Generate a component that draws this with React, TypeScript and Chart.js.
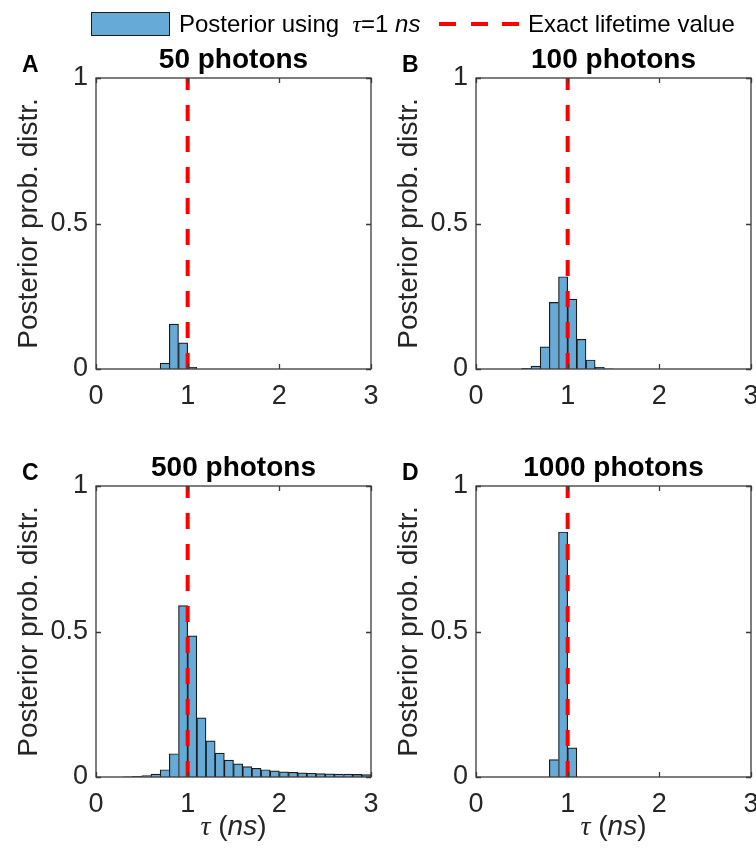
import React, { useEffect, useRef } from "react";
import { Chart, registerables } from "chart.js";

Chart.register(...registerables);

// Histogram bin centres for the lifetime tau (ns), bin width 0.1
const tauBinCenters = [
  0.05, 0.15, 0.25, 0.35, 0.45, 0.55, 0.65, 0.75, 0.85, 0.95,
  1.05, 1.15, 1.25, 1.35, 1.45, 1.55, 1.65, 1.75, 1.85, 1.95,
  2.05, 2.15, 2.25, 2.35, 2.45, 2.55, 2.65, 2.75, 2.85, 2.95,
];

// Posterior probability per bin for each photon count
const probPhotons50 = [
  0, 0, 0, 0, 0, 0, 0, 0.02, 0.154, 0.09,
  0.006, 0, 0, 0, 0, 0, 0, 0, 0, 0,
  0, 0, 0, 0, 0, 0, 0, 0, 0, 0,
];
const probPhotons100 = [
  0, 0, 0, 0, 0, 0.002, 0.01, 0.076, 0.229, 0.317,
  0.24, 0.102, 0.031, 0.006, 0.001, 0, 0, 0, 0, 0,
  0, 0, 0, 0, 0, 0, 0, 0, 0, 0,
];
const probPhotons500 = [
  0, 0, 0, 0.001, 0.002, 0.005, 0.01, 0.025, 0.08, 0.589,
  0.485, 0.203, 0.124, 0.082, 0.058, 0.045, 0.036, 0.03, 0.025, 0.021,
  0.018, 0.016, 0.014, 0.013, 0.012, 0.011, 0.01, 0.01, 0.009, 0.008,
];
const probPhotons1000 = [
  0, 0, 0, 0, 0, 0, 0, 0, 0.06, 0.842,
  0.1, 0, 0, 0, 0, 0, 0, 0, 0, 0,
  0, 0, 0, 0, 0, 0, 0, 0, 0, 0,
];

const panelTitles = ["50 photons", "100 photons", "500 photons", "1000 photons"];
const panelLetters = ["A", "B", "C", "D"];
const xTickValues = [0, 1, 2, 3];
const xTickLabels = ["0", "1", "2", "3"];
const yTickValues = [0, 0.5, 1];
const yTickLabels = ["0", "0.5", "1"];
const exactLifetime = 1;
const yAxisTitle = "Posterior prob. distr.";
const legendPosterior = "Posterior using";
const legendExact = "Exact lifetime value";

const SANS = "'Liberation Sans', Arial, Helvetica, sans-serif";
const SERIF = "'Liberation Serif', 'Times New Roman', serif";
const INK = "#262626";
const BAR_FILL = "#66aad7";
const BAR_EDGE = "#1c1c1c";
const FRAME = "#3a3a3a";

type Box = { left: number; top: number; width: number; height: number };
type Area = { l: number; t: number; r: number; b: number };

type PanelProps = {
  values: number[];
  title: string;
  letter: string;
  showXTitle: boolean;
  canvasBox: Box;
  area: Area;
};

const Y_AXIS_W = 60;
const X_AXIS_H = 40;
const TICK_LEN = 5;

function Panel({ values, title, letter, showXTitle, canvasBox, area }: PanelProps) {
  const ref = useRef<HTMLCanvasElement | null>(null);

  useEffect(() => {
    const canvas = ref.current;
    if (!canvas) return;
    const ox = canvasBox.left;
    const oy = canvasBox.top;

    const padding = {
      left: area.l - ox - Y_AXIS_W,
      top: area.t - oy,
      right: canvasBox.width - (area.r - ox),
      bottom: canvasBox.height - (area.b - oy) - X_AXIS_H,
    };

    const decorations = {
      id: "panelDecorations",
      afterDraw(chart: any) {
        const ctx = chart.ctx as CanvasRenderingContext2D;
        const ca = chart.chartArea;
        const xs = chart.scales.x;
        const ys = chart.scales.y;
        ctx.save();

        // inward tick marks on all four sides plus the box
        ctx.strokeStyle = FRAME;
        ctx.lineWidth = 1.3;
        ctx.beginPath();
        xTickValues.forEach((v) => {
          const px = Math.round(xs.getPixelForValue(v)) + 0.5;
          ctx.moveTo(px, ca.bottom);
          ctx.lineTo(px, ca.bottom - TICK_LEN);
          ctx.moveTo(px, ca.top);
          ctx.lineTo(px, ca.top + TICK_LEN);
        });
        yTickValues.forEach((v) => {
          const py = Math.round(ys.getPixelForValue(v)) + 0.5;
          ctx.moveTo(ca.left, py);
          ctx.lineTo(ca.left + TICK_LEN, py);
          ctx.moveTo(ca.right, py);
          ctx.lineTo(ca.right - TICK_LEN, py);
        });
        ctx.stroke();
        ctx.strokeRect(ca.left, ca.top, ca.right - ca.left, ca.bottom - ca.top);

        // panel title
        ctx.fillStyle = "#000";
        ctx.font = `bold 28px ${SANS}`;
        ctx.textAlign = "center";
        ctx.textBaseline = "alphabetic";
        ctx.fillText(title, (ca.left + ca.right) / 2, ca.top - 10);

        // panel letter
        ctx.font = `bold 23px ${SANS}`;
        ctx.textAlign = "left";
        ctx.fillText(letter, ca.left - 74, ca.top - 6);

        // y-axis title
        ctx.fillStyle = INK;
        ctx.font = `28px ${SANS}`;
        ctx.textAlign = "center";
        ctx.translate(ca.left - 59, (ca.top + ca.bottom) / 2);
        ctx.rotate(-Math.PI / 2);
        ctx.fillText(yAxisTitle, 0, 0);
        ctx.setTransform(1, 0, 0, 1, 0, 0);

        // x-axis title: tau (ns)
        if (showXTitle) {
          const parts: [string, string][] = [
            ["τ", `italic 28px ${SERIF}`],
            [" (", `28px ${SANS}`],
            ["ns", `italic 28px ${SANS}`],
            [")", `28px ${SANS}`],
          ];
          let total = 0;
          parts.forEach(([t, f]) => {
            ctx.font = f;
            total += ctx.measureText(t).width;
          });
          let x = (ca.left + ca.right) / 2 - total / 2;
          const y = ca.bottom + 58;
          ctx.textAlign = "left";
          parts.forEach(([t, f]) => {
            ctx.font = f;
            ctx.fillText(t, x, y);
            x += ctx.measureText(t).width;
          });
        }
        ctx.restore();
      },
    };

    const chart = new Chart(canvas, {
      type: "bar",
      data: {
        datasets: [
          {
            type: "line",
            data: [
              { x: exactLifetime, y: 0 },
              { x: exactLifetime, y: 1 },
            ],
            borderColor: "#ff0000",
            borderWidth: 4,
            borderDash: [16, 15],
            borderCapStyle: "butt",
            pointRadius: 0,
            order: 0,
          } as any,
          {
            type: "bar",
            data: tauBinCenters.map((x, i) => ({ x, y: values[i] })),
            backgroundColor: BAR_FILL,
            borderColor: BAR_EDGE,
            borderSkipped: "start",
            borderWidth: (c: any) => {
              const i = c.dataIndex;
              const next = i + 1 < values.length ? values[i + 1] : 0;
              return { top: 1.2, left: 1.2, right: next < values[i] ? 1.2 : 0, bottom: 0 };
            },
            barPercentage: 1,
            categoryPercentage: 1,
            order: 1,
          } as any,
        ],
      },
      options: {
        animation: false,
        responsive: false,
        maintainAspectRatio: false,
        events: [],
        layout: { padding, autoPadding: false },
        plugins: { legend: { display: false }, tooltip: { enabled: false } },
        scales: {
          x: {
            type: "linear",
            offset: false,
            min: 0,
            max: 3,
            grid: { display: false, drawTicks: false, offset: false },
            border: { display: false },
            afterBuildTicks: (s: any) => {
              s.ticks = xTickValues.map((v) => ({ value: v }));
            },
            afterFit: (s: any) => {
              s.height = X_AXIS_H;
            },
            ticks: {
              padding: 11,
              color: INK,
              font: { family: SANS, size: 27 },
              maxRotation: 0,
              autoSkip: false,
              callback: (v: any) => xTickLabels[xTickValues.indexOf(Number(v))] ?? "",
            },
          },
          y: {
            type: "linear",
            min: 0,
            max: 1,
            grid: { display: false, drawTicks: false },
            border: { display: false },
            afterBuildTicks: (s: any) => {
              s.ticks = yTickValues.map((v) => ({ value: v }));
            },
            afterFit: (s: any) => {
              s.width = Y_AXIS_W;
            },
            ticks: {
              padding: 8,
              color: INK,
              font: { family: SANS, size: 27 },
              autoSkip: false,
              callback: (v: any) => yTickLabels[yTickValues.indexOf(Number(v))] ?? "",
            },
          },
        },
      } as any,
      plugins: [decorations],
    });
    return () => chart.destroy();
  }, [values, title, letter, showXTitle, canvasBox, area]);

  return (
    <canvas
      ref={ref}
      width={canvasBox.width}
      height={canvasBox.height}
      style={{
        position: "absolute",
        left: canvasBox.left,
        top: canvasBox.top,
        width: canvasBox.width,
        height: canvasBox.height,
      }}
    />
  );
}

// Canvases are a little wider than their column so the last x label has room
const panels: { values: number[]; canvasBox: Box; area: Area; showXTitle: boolean }[] = [
  { values: probPhotons50, canvasBox: { left: 0, top: 0, width: 420, height: 428 }, area: { l: 96, t: 78, r: 371, b: 369 }, showXTitle: false },
  { values: probPhotons100, canvasBox: { left: 378, top: 0, width: 420, height: 428 }, area: { l: 476, t: 78, r: 751, b: 369 }, showXTitle: false },
  { values: probPhotons500, canvasBox: { left: 0, top: 428, width: 420, height: 428 }, area: { l: 96, t: 486, r: 371, b: 777 }, showXTitle: true },
  { values: probPhotons1000, canvasBox: { left: 378, top: 428, width: 420, height: 428 }, area: { l: 476, t: 486, r: 751, b: 777 }, showXTitle: true },
];

function Legend() {
  const text: React.CSSProperties = {
    position: "absolute",
    top: 24,
    transform: "translateY(-50%)",
    font: `24px ${SANS}`,
    color: "#000",
    whiteSpace: "pre",
    lineHeight: "28px",
  };
  const dash = (left: number): React.CSSProperties => ({
    position: "absolute",
    left,
    top: 22,
    width: 17,
    height: 4,
    background: "#ff0000",
  });
  return (
    <>
      <div
        style={{
          position: "absolute",
          left: 91,
          top: 12,
          width: 79,
          height: 24,
          background: BAR_FILL,
          border: `1px solid ${BAR_EDGE}`,
          boxSizing: "border-box",
        }}
      />
      <span style={{ ...text, left: 179 }}>
        {legendPosterior + "  "}
        <span style={{ fontFamily: SERIF, fontStyle: "italic" }}>τ</span>=1 <i>ns</i>
      </span>
      <div style={dash(439)} />
      <div style={dash(471)} />
      <div style={dash(502)} />
      <span style={{ ...text, left: 528 }}>{legendExact}</span>
    </>
  );
}

export default function App() {
  return (
    <div
      style={{
        position: "fixed",
        left: 0,
        top: 0,
        width: 756,
        height: 856,
        overflow: "hidden",
        background: "#fff",
      }}
    >
      {panels.map((p, i) => (
        <Panel
          key={i}
          values={p.values}
          title={panelTitles[i]}
          letter={panelLetters[i]}
          showXTitle={p.showXTitle}
          canvasBox={p.canvasBox}
          area={p.area}
        />
      ))}
      <Legend />
    </div>
  );
}
